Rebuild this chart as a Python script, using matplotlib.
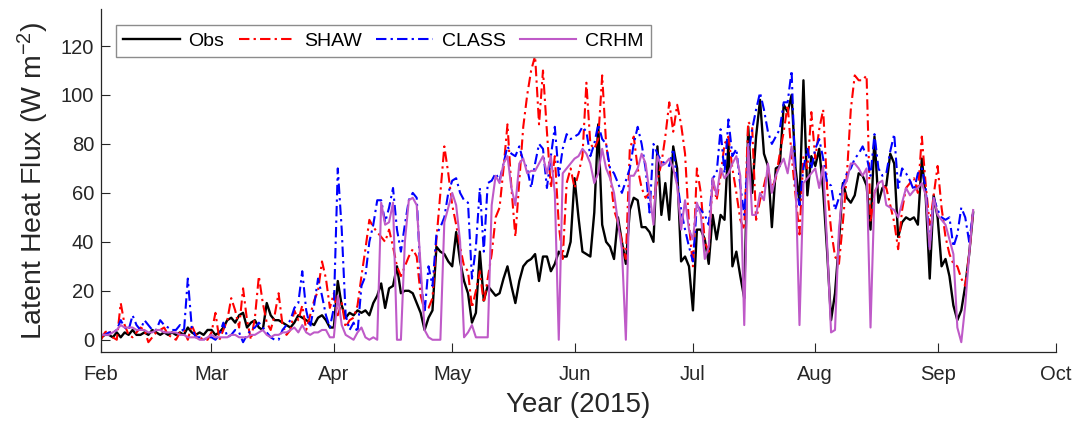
import numpy as np
import pandas as pd
import matplotlib
matplotlib.use('Agg')
import matplotlib.pyplot as plt

# ---------------- data (daily values, starting 2015-02-01) ----------------
start_date = '2015-02-01'

obs = [1,2,2,1,3,1,3,2,4,2,2,3,2,4,3,2,3,2,3,2,3,2,5,3,2,3,2,4,
       4,2,3,5,8,9,7,10,11,5,7,8,5,4,15,10,8,8,7,6,5,7,10,9,8,7,6,9,10,8,
       5,5,24,14,9,11,10,12,11,12,10,15,18,23,13,21,22,30,19,20,20,19,15,11,4,9,12,
       38,36,35,32,30,44,32,24,19,7,11,36,16,22,20,18,19,25,30,22,15,24,30,32,33,35,24,
       34,34,28,31,36,34,34,40,66,50,36,35,34,52,88,47,40,38,33,50,40,31,53,58,57,46,46,44,
       40,79,51,64,49,79,70,32,34,30,12,45,45,41,31,51,41,51,49,81,30,36,26,17,87,60,83,98,76,
       71,46,70,71,96,93,100,70,56,106,59,75,71,78,61,36,8,19,40,64,58,56,59,68,67,63,45,83,
       56,62,63,76,72,42,48,50,49,50,47,74,58,25,59,50,30,33,26,14,8,12,22,35,52]

shaw = [0,3,4,1,0,15,6,2,1,3,5,4,-1,1,3,4,5,2,1,0,3,4,0,6,2,1,0,0,
        3,11,0,4,8,17,12,5,21,8,0,9,26,15,7,4,10,19,6,2,4,12,8,14,4,10,16,20,32,25,
        13,19,10,15,5,8,9,14,26,37,49,46,44,42,40,45,38,30,26,30,34,37,34,18,12,13,17,
        41,60,79,68,55,47,38,30,28,13,20,28,15,25,35,50,54,70,88,62,42,65,87,100,110,116,88,
        110,85,62,75,47,33,64,70,62,68,75,105,80,78,82,108,80,68,53,48,40,33,78,83,70,62,58,60,
        58,65,72,83,97,85,96,88,76,47,30,70,60,40,36,66,57,67,80,83,70,60,49,45,89,87,49,57,63,
        70,62,66,76,85,96,75,59,43,75,70,93,74,86,94,62,45,34,31,48,67,94,108,106,106,108,48,60,
        64,63,62,55,48,37,53,62,64,66,60,83,63,47,59,71,54,42,35,31,30,25,22,35,53]

class_lh = [2,2,3,3,4,8,5,4,10,6,4,8,6,4,4,8,6,5,4,4,6,3,25,5,1,1,0,1,
            1,0,2,7,1,2,4,3,-1,2,4,5,7,5,3,1,0,0,4,6,8,13,15,28,12,5,14,25,18,10,
            5,13,70,45,10,4,7,3,22,26,40,47,57,57,48,54,62,45,36,47,57,60,58,25,11,30,22,
            43,46,50,60,65,66,60,57,56,25,38,62,36,64,65,68,65,72,79,76,75,79,73,70,62,72,80,
            78,62,75,87,67,78,84,82,83,84,87,85,75,80,88,82,80,70,68,64,60,65,70,80,87,80,70,52,
            80,76,73,72,71,78,65,53,45,38,32,55,53,51,47,66,68,86,68,90,75,78,63,51,75,86,94,101,94,
            85,80,83,86,97,97,110,63,55,70,78,70,78,82,74,64,63,53,58,63,68,70,74,76,79,75,67,84,
            70,67,68,77,84,62,70,68,65,61,68,70,62,37,58,53,50,49,50,38,43,54,50,40,52]

crhm = [2,2,2,3,4,6,5,5,5,4,4,4,3,3,4,4,3,3,3,3,2,2,1,1,1,0,0,1,
        2,1,1,1,1,2,2,1,1,1,2,2,3,4,2,1,2,2,3,3,4,5,3,6,3,2,3,3,4,4,
        1,1,18,6,2,1,0,3,5,1,0,1,0,56,47,48,56,0,0,40,57,58,55,30,4,1,0,
        0,0,48,54,60,55,40,1,3,6,1,1,1,1,55,67,64,72,75,62,55,72,74,68,69,69,72,
        75,68,75,60,0,68,70,72,74,75,78,76,72,64,68,78,70,66,60,48,37,0,67,67,70,76,72,60,
        47,75,71,72,74,70,63,45,57,45,41,56,51,33,38,66,59,70,66,68,72,75,67,6,80,51,51,60,57,
        72,60,67,71,74,68,79,66,6,64,66,68,70,62,71,39,3,4,45,62,65,72,72,70,67,70,5,60,
        64,65,55,54,53,50,56,62,59,61,62,64,59,37,58,51,49,47,41,35,5,-1,14,35,53]

series_names = ['Obs', 'SHAW', 'CLASS', 'CRHM']
month_ticks = ['2015-02-01', '2015-03-01', '2015-04-01', '2015-05-01', '2015-06-01',
               '2015-07-01', '2015-08-01', '2015-09-01', '2015-10-01']
month_labels = ['Feb', 'Mar', 'Apr', 'May', 'Jun', 'Jul', 'Aug', 'Sep', 'Oct']
y_ticks = [0, 20, 40, 60, 80, 100, 120]

# ---------------- style ----------------
plt.rcParams['font.family'] = ['Liberation Sans', 'DejaVu Sans']
plt.rcParams['mathtext.fontset'] = 'custom'
plt.rcParams['mathtext.rm'] = 'Liberation Sans'
plt.rcParams['mathtext.it'] = 'Liberation Sans:italic'
plt.rcParams['mathtext.default'] = 'regular'

axis_col = '#262626'

fig = plt.figure(figsize=(10.81, 4.29), dpi=100)
ax = fig.add_axes([101/1081, 1 - 352/429, 955/1081, (352 - 9.3)/429])

dates = pd.date_range(start_date, periods=len(obs), freq='D')

dashdot = (5.0, 2.0, 1.1, 2.0)
ax.plot(dates, obs, color='black', lw=1.7, label=series_names[0])
ax.plot(dates, shaw, color='#FF0000', lw=1.5, dashes=dashdot, label=series_names[1])
ax.plot(dates, class_lh, color='#0000FF', lw=1.5, dashes=dashdot, label=series_names[2])
ax.plot(dates, crhm, color='#BF5AC8', lw=1.5, label=series_names[3])

ax.set_xlim(pd.Timestamp(month_ticks[0]), pd.Timestamp(month_ticks[-1]))
ax.set_ylim(-5, 135)
ax.set_xticks([pd.Timestamp(t) for t in month_ticks])
ax.set_xticklabels(month_labels)
ax.set_yticks(y_ticks)

for s in ['top', 'right']:
    ax.spines[s].set_visible(False)
for s in ['left', 'bottom']:
    ax.spines[s].set_color(axis_col)
    ax.spines[s].set_linewidth(0.9)

ax.tick_params(direction='in', length=6.5, width=0.8, colors=axis_col,
               labelsize=14.5, labelcolor='#262626')
ax.tick_params(axis='x', pad=9)
ax.tick_params(axis='y', pad=5)

ax.set_xlabel('Year (2015)', fontsize=20, color='#262626', labelpad=6)
ax.set_ylabel('Latent Heat Flux (W m$^{-2}$)', fontsize=20.5, color='#262626', labelpad=7)

leg = ax.legend(loc='upper left', bbox_to_anchor=(15/955, (352 - 25)/342.7), ncol=4,
                fontsize=14, frameon=True, fancybox=False, borderaxespad=0,
                handlelength=2.9, handletextpad=0.45, columnspacing=0.75,
                borderpad=0.38)
leg.get_frame().set_edgecolor('#8c8c8c')
leg.get_frame().set_linewidth(1.0)
leg.get_frame().set_alpha(1)

fig.savefig('out.png', dpi=100)
